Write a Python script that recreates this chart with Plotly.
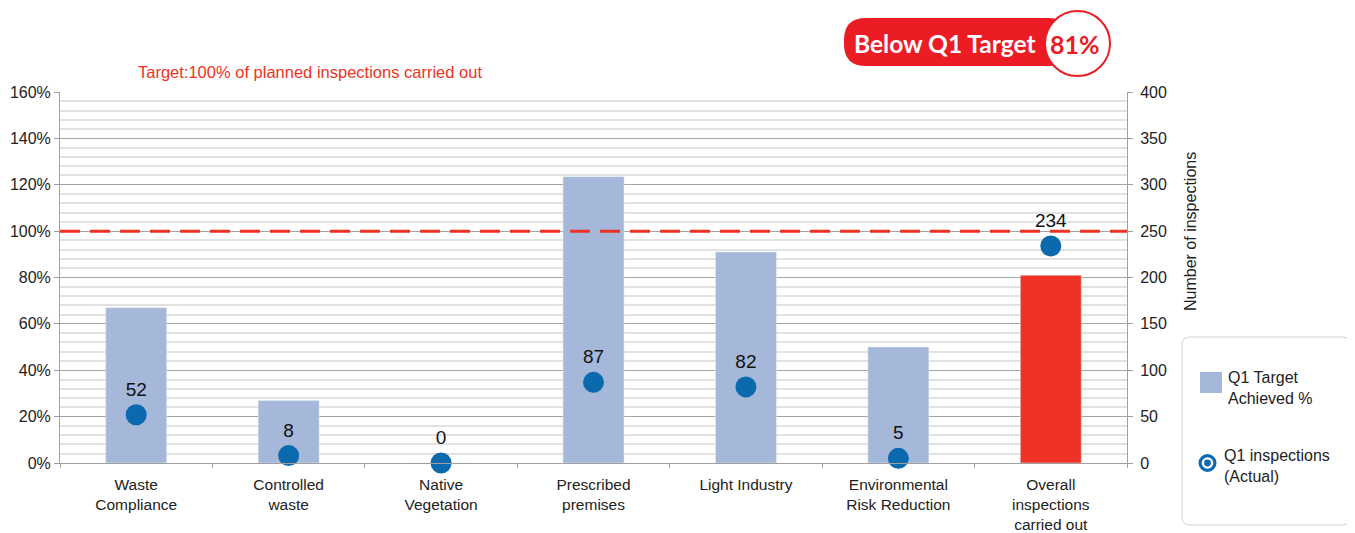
import plotly.graph_objects as go

categories = ["Waste<br>Compliance", "Controlled<br>waste", "Native<br>Vegetation",
              "Prescribed<br>premises", "Light Industry", "Environmental<br>Risk Reduction",
              "Overall<br>inspections<br>carried out"]
target_achieved = [0.67, 0.27, 0.0, 1.235, 0.91, 0.50, 0.81]
inspections = [52, 8, 0, 87, 82, 5, 234]
target_level = 1.0
bar_colors = ["#A5B8DA"] * 6 + ["#EE3224"]

W, H = 1355, 533
OFF = 8  # page body margin
L, R, T, B = 60, 1127, 92, 463  # plot area in page pixels

def px(x):
    return (x - L) / (R - L)

def py(y):
    return (B - y) / (B - T)

FONT = "Liberation Sans, Arial, sans-serif"

fig = go.Figure()
fig.add_trace(go.Bar(x=categories, y=target_achieved, marker_color=bar_colors,
                     width=0.4, name="Q1 Target Achieved %", showlegend=False))
fig.add_trace(go.Scatter(x=categories, y=inspections, yaxis="y2", mode="markers+text",
                         marker=dict(size=21, color="#0B69AE"),
                         text=[str(v) for v in inspections], textposition="top center",
                         textfont=dict(size=19, color="#111", family=FONT),
                         name="Q1 inspections (Actual)", showlegend=False, cliponaxis=False))

shapes = []
shapes.append(dict(type="line", xref="paper", yref="y", x0=0, x1=1, y0=target_level, y1=target_level,
                   line=dict(color="#EE3224", width=3, dash="20px,10px")))

def rrect(x0, y0, x1, y1, r):
    kx = lambda v: f"{px(v):.5f}"
    ky = lambda v: f"{py(v):.5f}"
    return (f"M {kx(x0+r)},{ky(y0)} L {kx(x1-r)},{ky(y0)} Q {kx(x1)},{ky(y0)} {kx(x1)},{ky(y0+r)} "
            f"L {kx(x1)},{ky(y1-r)} Q {kx(x1)},{ky(y1)} {kx(x1-r)},{ky(y1)} "
            f"L {kx(x0+r)},{ky(y1)} Q {kx(x0)},{ky(y1)} {kx(x0)},{ky(y1-r)} "
            f"L {kx(x0)},{ky(y0+r)} Q {kx(x0)},{ky(y0)} {kx(x0+r)},{ky(y0)} Z")

shapes.append(dict(type="path", xref="paper", yref="paper", path=rrect(1182, 337, 1350, 525, 8),
                   line=dict(color="#D0D0D0", width=1), fillcolor="white"))
shapes.append(dict(type="rect", xref="paper", yref="paper", x0=px(1200), x1=px(1222), y0=py(372), y1=py(393),
                   line=dict(width=0), fillcolor="#A5B8DA"))

def circ(cx, cy, r, fill):
    return dict(type="circle", xref="paper", yref="paper", x0=px(cx - r), x1=px(cx + r),
                y0=py(cy + r), y1=py(cy - r), line=dict(width=0), fillcolor=fill)

shapes += [circ(1207.5, 463, 9, "#0B69AE"), circ(1207.5, 463, 5.8, "white"), circ(1207.5, 463, 3.4, "#0B69AE")]

shapes.append(dict(type="path", xref="paper", yref="paper", path=rrect(844, 18, 1070, 66, 22),
                   line=dict(width=0), fillcolor="#EC1C24"))
shapes.append(dict(type="circle", xref="paper", yref="paper", x0=px(1045), x1=px(1110),
                   y0=py(76), y1=py(11), line=dict(color="#EC1C24", width=2), fillcolor="white"))

def ann(text, x, y, size, color="#222", family=FONT, xanchor="center", **kw):
    return dict(text=text, xref="paper", yref="paper", x=px(x), y=py(y), showarrow=False,
                xanchor=xanchor, yanchor="middle", font=dict(size=size, color=color, family=family), **kw)

annotations = [
    ann("Target:100% of planned inspections carried out", 310, 72, 16.5, color="#EE3224"),
    ann("Number of inspections", 1190, 232, 16, textangle=-90),
    ann("Q1 Target<br>Achieved %", 1226, 388, 16, xanchor="left", align="left"),
    ann("Q1 inspections<br>(Actual)", 1222, 466, 16, xanchor="left", align="left"),
    ann("<b>Below Q1 Target</b>", 945, 43, 24.5, color="white", family="Lato, sans-serif"),
    ann("<b>81%</b>", 1075, 44, 25, color="#EC1C24", family="Lato, sans-serif"),
]

fig.update_layout(
    width=W - OFF, height=H - OFF,
    margin=dict(l=L - OFF, r=W - R, t=T - OFF, b=H - B, pad=0, autoexpand=False),
    paper_bgcolor="white", plot_bgcolor="white",
    font=dict(family=FONT, size=16, color="#222"),
    xaxis=dict(showline=True, linecolor="#A0A0A0", linewidth=1, ticks="outside", tickson="boundaries",
               ticklen=4, tickcolor="#A0A0A0", showgrid=False, ticklabelstandoff=7,
               tickfont=dict(size=15.5, color="#222")),
    yaxis=dict(range=[0, 1.6], dtick=0.2, tickformat=".0%", showline=True, linecolor="#A0A0A0",
               ticks="outside", ticklen=5, tickcolor="#A0A0A0", gridcolor="#A4A4A4", gridwidth=1.2,
               minor=dict(dtick=0.04, showgrid=True, gridcolor="#E2E2E2", gridwidth=1.5),
               zeroline=False, tickfont=dict(size=16, color="#222")),
    yaxis2=dict(range=[0, 400], dtick=50, overlaying="y", side="right", showgrid=False,
                showline=True, linecolor="#A0A0A0", ticks="outside", ticklen=5, tickcolor="#A0A0A0",
                ticklabelstandoff=4, zeroline=False, tickfont=dict(size=16, color="#222")),
    shapes=shapes, annotations=annotations, showlegend=False,
)

fig.write_html("out.html")
